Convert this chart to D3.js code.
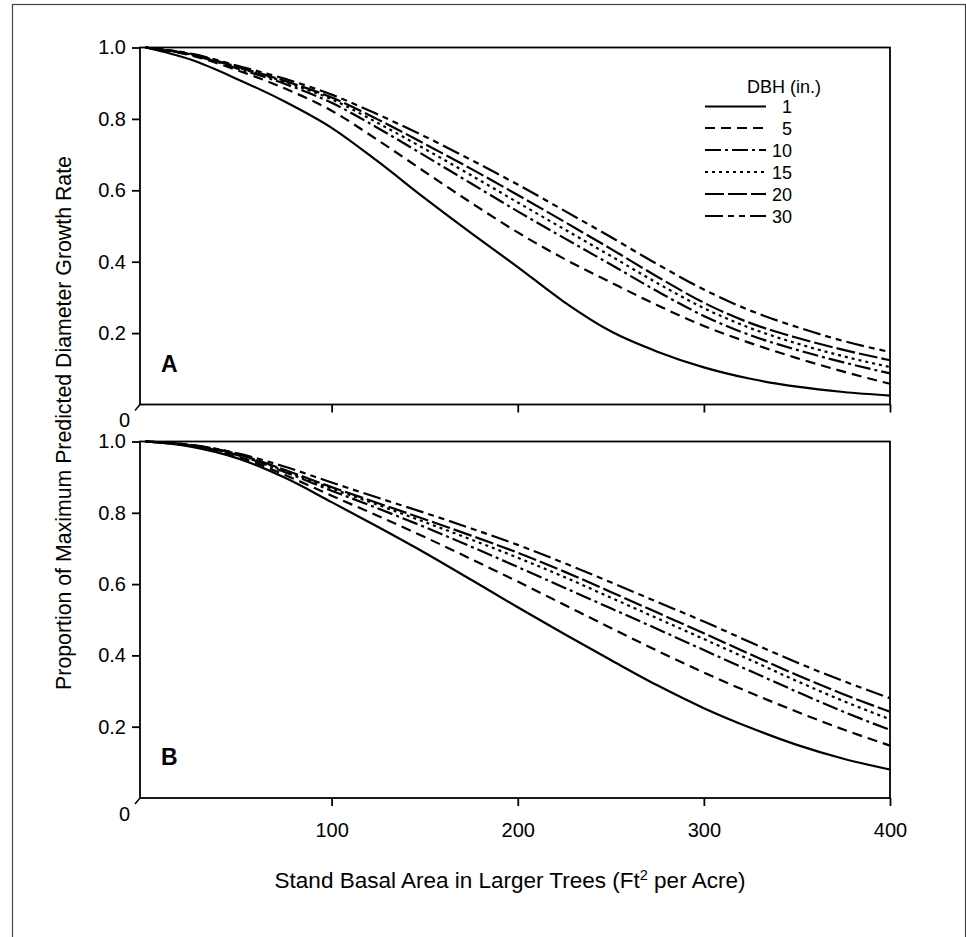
<!DOCTYPE html>
<html>
<head>
<meta charset="utf-8">
<script src="https://cdn.jsdelivr.net/npm/d3@7"></script>
<style>
  html, body { margin: 0; padding: 0; background: #fff; }
  svg { display: block; font-family: "Liberation Sans", Arial, Helvetica, sans-serif; }
</style>
</head>
<body>
<svg id="chart" width="966" height="937"></svg>
<script>
// ---- data ----
const basalArea = [0, 25, 50, 75, 100, 125, 150, 175, 200, 225, 250, 275, 300, 325, 350, 375, 400];
const dbhClasses = ["1", "5", "10", "15", "20", "30"];
const xTicks = [100, 200, 300, 400];
const yTicks = [0.2, 0.4, 0.6, 0.8, 1.0];
const panelLabels = ["A", "B"];

// Panel A
const a1  = [1.0, 0.965, 0.91, 0.848, 0.775, 0.68, 0.578, 0.48, 0.385, 0.287, 0.205, 0.148, 0.104, 0.072, 0.05, 0.035, 0.025];
const a5  = [1.0, 0.977, 0.935, 0.885, 0.823, 0.74, 0.652, 0.565, 0.482, 0.408, 0.342, 0.278, 0.22, 0.172, 0.13, 0.092, 0.058];
const a10 = [1.0, 0.979, 0.94, 0.898, 0.845, 0.774, 0.697, 0.619, 0.541, 0.466, 0.392, 0.317, 0.248, 0.194, 0.153, 0.118, 0.087];
const a15 = [1.0, 0.98, 0.943, 0.903, 0.855, 0.788, 0.716, 0.642, 0.566, 0.491, 0.416, 0.34, 0.27, 0.214, 0.171, 0.135, 0.105];
const a20 = [1.0, 0.981, 0.945, 0.906, 0.86, 0.798, 0.73, 0.66, 0.587, 0.512, 0.436, 0.358, 0.285, 0.228, 0.187, 0.153, 0.124];
const a30 = [1.0, 0.982, 0.948, 0.912, 0.868, 0.812, 0.751, 0.685, 0.616, 0.543, 0.469, 0.393, 0.322, 0.263, 0.217, 0.178, 0.147];

// Panel B
const b1  = [1.0, 0.985, 0.952, 0.898, 0.83, 0.76, 0.688, 0.612, 0.535, 0.46, 0.387, 0.316, 0.252, 0.197, 0.149, 0.11, 0.08];
const b5  = [1.0, 0.987, 0.957, 0.906, 0.848, 0.791, 0.732, 0.67, 0.607, 0.542, 0.477, 0.413, 0.352, 0.295, 0.242, 0.192, 0.147];
const b10 = [1.0, 0.988, 0.961, 0.914, 0.862, 0.812, 0.76, 0.705, 0.648, 0.59, 0.532, 0.474, 0.415, 0.356, 0.298, 0.242, 0.191];
const b15 = [1.0, 0.989, 0.963, 0.918, 0.868, 0.822, 0.774, 0.725, 0.674, 0.62, 0.562, 0.504, 0.446, 0.387, 0.328, 0.272, 0.221];
const b20 = [1.0, 0.99, 0.964, 0.92, 0.872, 0.827, 0.782, 0.736, 0.688, 0.635, 0.578, 0.52, 0.462, 0.403, 0.345, 0.291, 0.242];
const b30 = [1.0, 0.99, 0.966, 0.929, 0.885, 0.842, 0.8, 0.756, 0.71, 0.659, 0.605, 0.55, 0.495, 0.437, 0.38, 0.328, 0.28];

const panelSeries = [[a1, a5, a10, a15, a20, a30], [b1, b5, b10, b15, b20, b30]];

// ---- styles ----
const dashes = ["none", "10,6", "16,4,3,4", "3,4", "19,4", "18,5,6,5,6,5"];
const FONT = 20;
const FF = "'Liberation Sans', Arial, Helvetica, sans-serif";

const svg = d3.select("#chart");

// outer frame
svg.append("rect")
  .attr("x", 12.5).attr("y", 4.5).attr("width", 953).attr("height", 945)
  .attr("fill", "none").attr("stroke", "#444").attr("stroke-width", 1.2);

const left = 140, right = 890;
const x = d3.scaleLinear().domain([0, 400]).range([145.5, 890]);
const panels = [
  { top: 47.5, bottom: 404.5 },
  { top: 441.5, bottom: 798 }
];

panels.forEach((p, pi) => {
  const y = d3.scaleLinear().domain([0, 1]).range([p.bottom, p.top]);
  const g = svg.append("g");

  // curves
  const line = d3.line()
    .x((d, i) => x(basalArea[i]))
    .y(d => y(d))
    .curve(d3.curveMonotoneX);
  panelSeries[pi].forEach((s, si) => {
    g.append("path")
      .attr("d", line(s))
      .attr("fill", "none")
      .attr("stroke", "#000")
      .attr("stroke-width", 2.2)
      .attr("stroke-dasharray", dashes[si]);
  });

  // frame box
  g.append("rect")
    .attr("x", left).attr("y", y(1))
    .attr("width", right - left).attr("height", y(0) - y(1))
    .attr("fill", "none").attr("stroke", "#000").attr("stroke-width", 1.8);

  // y axis
  const yAxis = d3.axisLeft(y).tickValues(yTicks).tickFormat(d3.format(".1f"))
    .tickSize(8).tickPadding(6);
  const ya = g.append("g").attr("transform", `translate(${left},0)`).call(yAxis);
  ya.select(".domain").remove();
  ya.selectAll(".tick line").attr("stroke", "#000").attr("stroke-width", 1.8);
  ya.selectAll(".tick text").attr("font-size", FONT).attr("fill", "#000").attr("font-family", FF);

  // x axis
  const xAxis = d3.axisBottom(x).tickValues(xTicks).tickSize(8).tickPadding(17)
    .tickFormat(pi === 1 ? d3.format("d") : () => "");
  const xa = g.append("g").attr("transform", `translate(0,${y(0)})`).call(xAxis);
  xa.select(".domain").remove();
  xa.selectAll(".tick line").attr("stroke", "#000").attr("stroke-width", 1.8);
  xa.selectAll(".tick text").attr("font-size", FONT).attr("fill", "#000").attr("font-family", FF);

  // zero label and break mark
  g.append("text").attr("x", 130).attr("y", y(0) + 22.5)
    .attr("text-anchor", "end").attr("font-size", FONT).text("0");
  g.append("line")
    .attr("x1", left - 5).attr("y1", y(0) + 6)
    .attr("x2", left).attr("y2", y(0))
    .attr("stroke", "#000").attr("stroke-width", 1.5);

  // panel letter
  g.append("text").attr("x", 161).attr("y", p.bottom - 33)
    .attr("font-size", 23).attr("font-weight", "bold").text(panelLabels[pi]);
});

// legend
const lg = svg.append("g");
lg.append("text").attr("x", 747).attr("y", 93).attr("font-size", 18).text("DBH (in.)");
const legendRows = [106.5, 128, 150, 172, 194, 216];
dbhClasses.forEach((c, i) => {
  lg.append("line")
    .attr("x1", 705).attr("x2", 766)
    .attr("y1", legendRows[i]).attr("y2", legendRows[i])
    .attr("stroke", "#000").attr("stroke-width", 2.2)
    .attr("stroke-dasharray", dashes[i]);
  lg.append("text").attr("x", 792).attr("y", legendRows[i] + 6.5)
    .attr("text-anchor", "end").attr("font-size", 18).text(c);
});

// axis titles
svg.append("text")
  .attr("transform", "translate(71,423) rotate(-90)")
  .attr("text-anchor", "middle").attr("font-size", 21.3)
  .text("Proportion of Maximum Predicted Diameter Growth Rate");

const xt = svg.append("text").attr("x", 510).attr("y", 888)
  .attr("text-anchor", "middle").attr("font-size", 22.5);
xt.append("tspan").text("Stand Basal Area in Larger Trees (Ft");
xt.append("tspan").attr("font-size", 14.5).attr("dy", -8).text("2");
xt.append("tspan").attr("dy", 8).text(" per Acre)");
</script>
</body>
</html>
